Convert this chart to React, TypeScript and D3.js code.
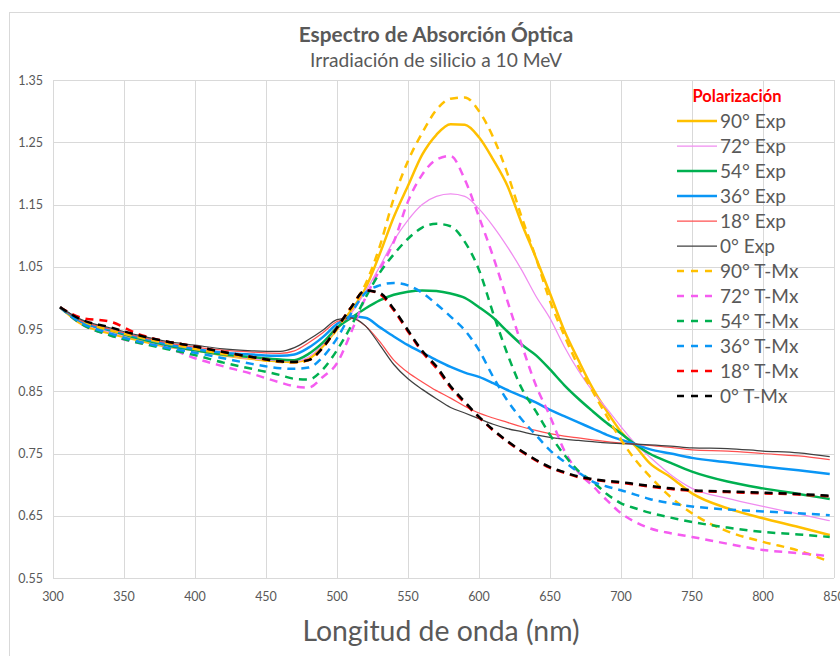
import React from "react";
import * as d3 from "d3";

const wavelengths = [305, 320, 340, 360, 380, 400, 420, 440, 460, 470, 480, 490, 500, 510, 520, 530, 540, 550, 560, 570, 580, 590, 600, 610, 620, 630, 640, 650, 660, 670, 680, 690, 700, 710, 720, 735, 750, 775, 800, 825, 847];

const exp90 = [0.985, 0.958, 0.943, 0.932, 0.922, 0.916, 0.908, 0.902, 0.898, 0.897, 0.902, 0.922, 0.95, 0.98, 1.015, 1.07, 1.13, 1.18, 1.23, 1.262, 1.279, 1.278, 1.258, 1.222, 1.18, 1.12, 1.065, 1.007, 0.948, 0.9, 0.855, 0.818, 0.785, 0.762, 0.735, 0.712, 0.686, 0.662, 0.646, 0.632, 0.619];
const exp72 = [0.985, 0.96, 0.945, 0.934, 0.922, 0.915, 0.908, 0.902, 0.899, 0.898, 0.905, 0.925, 0.95, 0.975, 1.01, 1.05, 1.092, 1.125, 1.15, 1.163, 1.167, 1.163, 1.143, 1.115, 1.082, 1.045, 1.003, 0.967, 0.922, 0.883, 0.85, 0.822, 0.793, 0.766, 0.745, 0.716, 0.694, 0.678, 0.665, 0.653, 0.642];
const exp54 = [0.985, 0.962, 0.948, 0.935, 0.924, 0.916, 0.909, 0.905, 0.901, 0.9, 0.91, 0.928, 0.952, 0.968, 0.983, 0.996, 1.005, 1.01, 1.012, 1.011, 1.007, 1.0, 0.985, 0.968, 0.946, 0.925, 0.908, 0.885, 0.86, 0.838, 0.818, 0.799, 0.782, 0.765, 0.75, 0.735, 0.721, 0.705, 0.694, 0.685, 0.677];
const exp36 = [0.985, 0.962, 0.949, 0.937, 0.926, 0.918, 0.912, 0.909, 0.907, 0.909, 0.92, 0.937, 0.958, 0.97, 0.968, 0.953, 0.938, 0.924, 0.912, 0.9, 0.889, 0.88, 0.873, 0.863, 0.852, 0.842, 0.832, 0.82, 0.81, 0.8, 0.79, 0.78, 0.772, 0.765, 0.757, 0.75, 0.743, 0.736, 0.729, 0.723, 0.717];
const exp18 = [0.985, 0.963, 0.95, 0.938, 0.928, 0.921, 0.916, 0.913, 0.911, 0.915, 0.928, 0.944, 0.962, 0.967, 0.955, 0.93, 0.9, 0.88, 0.865, 0.851, 0.839, 0.826, 0.815, 0.807, 0.8, 0.793, 0.787, 0.782, 0.778, 0.775, 0.772, 0.769, 0.767, 0.765, 0.763, 0.76, 0.756, 0.754, 0.75, 0.746, 0.74];
const exp0 = [0.985, 0.965, 0.952, 0.94, 0.93, 0.924, 0.918, 0.915, 0.914, 0.92, 0.933, 0.948, 0.965, 0.968, 0.955, 0.925, 0.893, 0.87, 0.853, 0.838, 0.824, 0.815, 0.806, 0.797, 0.79, 0.785, 0.78, 0.776, 0.773, 0.771, 0.769, 0.767, 0.766, 0.765, 0.764, 0.762, 0.759, 0.758, 0.754, 0.751, 0.745];
const tmx90 = [0.985, 0.962, 0.948, 0.937, 0.927, 0.918, 0.91, 0.903, 0.897, 0.896, 0.9, 0.92, 0.95, 0.985, 1.022, 1.082, 1.16, 1.22, 1.265, 1.302, 1.32, 1.322, 1.3, 1.258, 1.2, 1.13, 1.065, 0.995, 0.94, 0.89, 0.85, 0.81, 0.772, 0.74, 0.714, 0.68, 0.654, 0.625, 0.608, 0.594, 0.576];
const tmx72 = [0.985, 0.958, 0.94, 0.928, 0.92, 0.903, 0.89, 0.878, 0.864, 0.858, 0.856, 0.873, 0.895, 0.945, 1.0, 1.045, 1.09, 1.155, 1.198, 1.222, 1.228, 1.19, 1.13, 1.066, 0.995, 0.925, 0.86, 0.81, 0.755, 0.72, 0.698, 0.675, 0.654, 0.64, 0.63, 0.622, 0.616, 0.605, 0.595, 0.59, 0.585];
const tmx54 = [0.985, 0.958, 0.94, 0.928, 0.918, 0.908, 0.896, 0.886, 0.876, 0.87, 0.869, 0.885, 0.916, 0.955, 1.0, 1.04, 1.07, 1.095, 1.113, 1.119, 1.115, 1.09, 1.045, 0.975, 0.91, 0.855, 0.818, 0.78, 0.748, 0.722, 0.705, 0.685, 0.67, 0.662, 0.655, 0.647, 0.64, 0.631, 0.624, 0.62, 0.616];
const tmx36 = [0.985, 0.96, 0.943, 0.93, 0.92, 0.912, 0.903, 0.894, 0.887, 0.886, 0.888, 0.905, 0.935, 0.975, 1.008, 1.02, 1.024, 1.02, 1.008, 0.99, 0.97, 0.948, 0.916, 0.873, 0.835, 0.805, 0.78, 0.755, 0.737, 0.72, 0.705, 0.697, 0.691, 0.684, 0.677, 0.67, 0.665, 0.66, 0.657, 0.654, 0.651];
const tmx18 = [0.985, 0.968, 0.962, 0.942, 0.93, 0.922, 0.913, 0.905, 0.898, 0.897, 0.9, 0.92, 0.952, 0.985, 1.012, 1.006, 0.98, 0.946, 0.913, 0.887, 0.856, 0.831, 0.808, 0.787, 0.769, 0.753, 0.739, 0.727, 0.719, 0.712, 0.708, 0.705, 0.703, 0.7, 0.697, 0.693, 0.69, 0.688, 0.686, 0.684, 0.681];
const tmx0 = [0.985, 0.965, 0.953, 0.94, 0.93, 0.922, 0.913, 0.905, 0.898, 0.897, 0.9, 0.92, 0.952, 0.985, 1.012, 1.008, 0.982, 0.948, 0.915, 0.89, 0.858, 0.833, 0.809, 0.788, 0.77, 0.754, 0.74, 0.728, 0.72, 0.713, 0.709, 0.706, 0.704, 0.701, 0.698, 0.694, 0.691, 0.689, 0.687, 0.685, 0.682];

const seriesNames = ["90° Exp", "72° Exp", "54° Exp", "36° Exp", "18° Exp", "0° Exp", "90° T-Mx", "72° T-Mx", "54° T-Mx", "36° T-Mx", "18° T-Mx", "0° T-Mx"];
const seriesValues = [exp90, exp72, exp54, exp36, exp18, exp0, tmx90, tmx72, tmx54, tmx36, tmx18, tmx0];
const seriesColors = ["#FFC000", "#F08CF0", "#00B050", "#0A96F5", "#FF5050", "#404040", "#FFC000", "#F55CF0", "#00B050", "#0A96F5", "#FF0000", "#000000"];
const seriesWidths = [2.5, 1.25, 2.5, 2.5, 1.25, 1.25, 2.5, 2.5, 2.5, 2.5, 2.5, 2.5];
const seriesDashed = [false, false, false, false, false, false, true, true, true, true, true, true];

const xTicks = [300, 350, 400, 450, 500, 550, 600, 650, 700, 750, 800, 850];
const yTicks = [0.55, 0.65, 0.75, 0.85, 0.95, 1.05, 1.15, 1.25, 1.35];

const FONT = "Lato, 'Open Sans', sans-serif";

export default function App() {
  const W = 840, H = 656;
  const x = d3.scaleLinear().domain([300, 850]).range([53, 834]);
  const y = d3.scaleLinear().domain([0.55, 1.35]).range([578, 80]);
  const line = d3
    .line<[number, number]>()
    .x((d) => x(d[0]))
    .y((d) => y(d[1]))
    .curve(d3.curveMonotoneX);

  return (
    <svg width={W} height={H} style={{ position: "absolute", left: 0, top: 0, background: "#fff" }} fontFamily={FONT}>
      <rect x={9.5} y={12.5} width={850} height={700} fill="#fff" stroke="#d9d9d9" strokeWidth={1} />
      <text x={436} y={42} textAnchor="middle" fontSize={20.8} fontWeight="bold" fill="#595959">Espectro de Absorción Óptica</text>
      <text x={436} y={67} textAnchor="middle" fontSize={19.2} fill="#595959">Irradiación de silicio a 10 MeV</text>
      {yTicks.map((t) => (
        <g key={"y" + t}>
          <line x1={53} x2={834} y1={Math.round(y(t)) + 0.5} y2={Math.round(y(t)) + 0.5} stroke="#d9d9d9" strokeWidth={1} />
          <text x={43} y={y(t) + 4.5} textAnchor="end" fontSize={12.5} fill="#595959">{t.toFixed(2)}</text>
        </g>
      ))}
      {xTicks.map((t) => (
        <g key={"x" + t}>
          <line x1={Math.round(x(t)) + 0.5} x2={Math.round(x(t)) + 0.5} y1={80} y2={578} stroke="#d9d9d9" strokeWidth={1} />
          <text x={x(t)} y={601} textAnchor="middle" fontSize={12.5} fill="#595959">{t}</text>
        </g>
      ))}
      <text x={441} y={641} textAnchor="middle" fontSize={28.4} fill="#595959">Longitud de onda (nm)</text>
      {seriesValues.map((vals, i) => {
        const pts = wavelengths.map((w, j) => [w, vals[j]] as [number, number]);
        return (
          <path
            key={seriesNames[i]}
            d={line(pts) || ""}
            fill="none"
            stroke={seriesColors[i]}
            strokeWidth={seriesWidths[i]}
            strokeDasharray={seriesDashed[i] ? "8,6" : undefined}
            strokeLinejoin="round"
          />
        );
      })}
      <text x={737} y={102} textAnchor="middle" fontSize={16.5} fontWeight="bold" fill="#FF0000">Polarización</text>
      {seriesNames.map((n, i) => {
        const cy = 121 + i * 25;
        return (
          <g key={"leg" + n}>
            <line x1={677} x2={717} y1={cy} y2={cy} stroke={seriesColors[i]} strokeWidth={seriesWidths[i]} strokeDasharray={seriesDashed[i] ? "7,7" : undefined} />
            <text x={720} y={cy + 6.5} fontSize={19} fill="#595959">{n}</text>
          </g>
        );
      })}
    </svg>
  );
}
